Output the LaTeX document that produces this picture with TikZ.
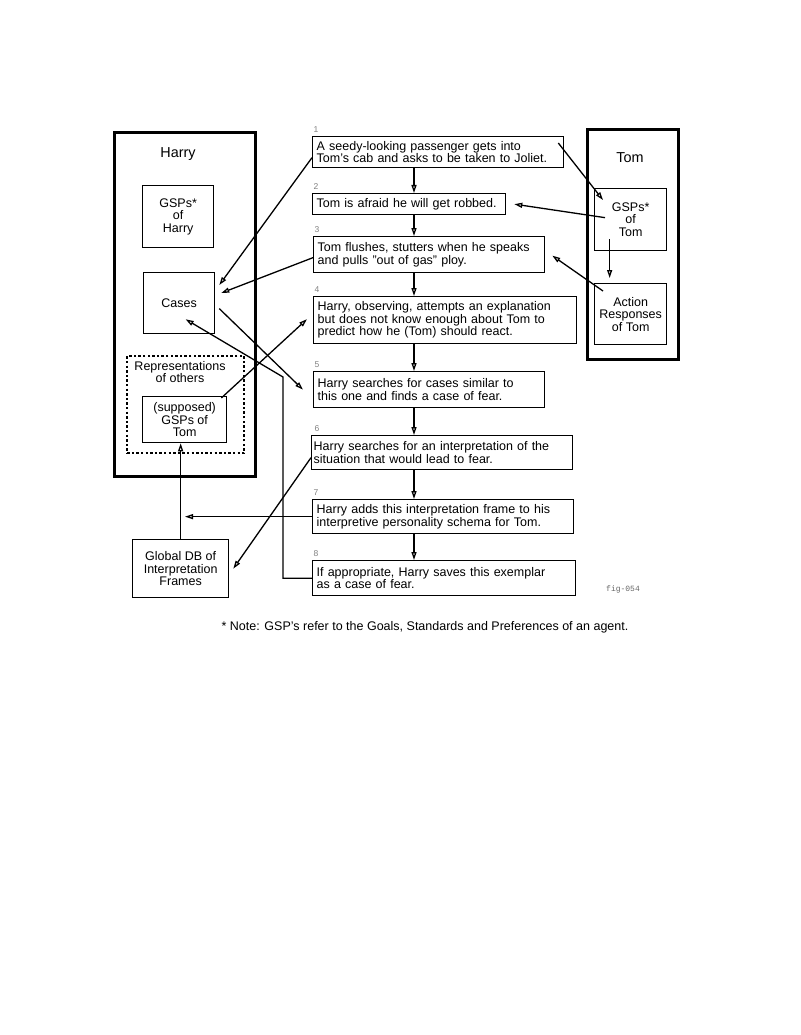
\documentclass[tikz,border=0pt]{standalone}
\usepackage{fontspec}
\setmainfont{Liberation Sans}
\setmonofont{Liberation Mono}
\usepackage{tikz}
\usetikzlibrary{arrows.meta, positioning}

\tikzset{
  agentbox/.style={draw, line width=2.8pt, anchor=north west, inner sep=0pt},
  partbox/.style={draw, anchor=north west, inner sep=0pt, align=center},
  stepbox/.style={draw, anchor=north west, inner xsep=4pt, inner ysep=0pt, align=left},
  steplabel/.style={inner sep=1pt, text=black!50, font=\fontsize{8.5}{8.5}\selectfont},
  agentname/.style={font=\fontsize{14.4}{15}\selectfont}
}

\begin{document}
\begin{tikzpicture}[x=1pt, y=-1pt, line width=1.3pt,
    >={Triangle[open, length=8pt, width=5pt]},
    every node/.append style={font=\fontsize{12.5}{12.6}\selectfont}]
  \useasboundingbox (0,0) rectangle (800,1035);
  \coordinate (spine) at (414,0);
  \coordinate (frametip) at (185,0);
  \coordinate (bend) at (283,377);

  % Harry
  \node[agentbox, minimum width=141pt, minimum height=344pt] (harry) at (113,131) {};
  \node[agentname] (harryname) at (178,154) {Harry};
  \node[partbox, minimum width=71pt, minimum height=62pt] (gsph) at (142,185) {GSPs*\\of\\Harry};
  \node[partbox, minimum width=71pt, minimum height=61pt] (cases) at (143,272) {Cases};
  \node[partbox, line width=2.4pt, dash pattern=on 2.4pt off 2.2pt,
        minimum width=117pt, minimum height=97pt] (others) at (126,355) {};
  \node[align=center, inner sep=0pt] (othersname) at (180,372) {Representations\\of others};
  \node[partbox, minimum width=84pt, minimum height=46pt] (sup) at (142,396) {(supposed)\\GSPs of\\Tom};
  \node[partbox, minimum width=96pt, minimum height=58pt] (gdb) at (132,539) {Global DB of\\Interpretation\\Frames};

  % Tom
  \node[agentbox, minimum width=91pt, minimum height=230pt] (tom) at (586,128) {};
  \node[agentname] (tomname) at (630,158) {Tom};
  \node[partbox, minimum width=72pt, minimum height=62pt] (gspt) at (594,188) {GSPs*\\of\\Tom};
  \node[partbox, minimum width=72pt, minimum height=61pt] (act) at (594,283) {Action\\Responses\\of Tom};

  % the story
  \node[stepbox, text width=243pt, minimum height=31pt] (b1) at (312,136)
    {A seedy-looking passenger gets into\\Tom's cab and asks to be taken to Joliet.};
  \node[stepbox, text width=185pt, minimum height=21pt] (b2) at (312,193)
    {Tom is afraid he will get robbed.};
  \node[stepbox, text width=223pt, minimum height=36pt] (b3) at (313,236)
    {Tom flushes, stutters when he speaks\\and pulls "out of gas" ploy.};
  \node[stepbox, text width=255pt, minimum height=47pt] (b4) at (313,296)
    {Harry, observing, attempts an explanation\\but does not know enough about Tom to\\predict how he (Tom) should react.};
  \node[stepbox, text width=223pt, minimum height=36pt] (b5) at (313,371)
    {Harry searches for cases similar to\\this one and finds a case of fear.};
  \node[stepbox, inner xsep=2pt, text width=257pt, minimum height=34pt] (b6) at (311,435)
    {Harry searches for an interpretation of the\\situation that would lead to fear.};
  \node[stepbox, text width=253pt, minimum height=34pt] (b7) at (312,499)
    {Harry adds this interpretation frame to his\\interpretive personality schema for Tom.};
  \node[stepbox, text width=255pt, minimum height=35pt] (b8) at (312,560)
    {If appropriate, Harry saves this exemplar\\as a case of fear.};

  \node[steplabel, above right=1.5pt and 0pt of b1.north west] (n1) {1};
  \node[steplabel, above right=1.5pt and 0pt of b2.north west] (n2) {2};
  \node[steplabel, above right=1.5pt and 0pt of b3.north west] (n3) {3};
  \node[steplabel, above right=1.5pt and 0pt of b4.north west] (n4) {4};
  \node[steplabel, above right=1.5pt and 0pt of b5.north west] (n5) {5};
  \node[steplabel, above right=1.5pt and 2pt of b6.north west] (n6) {6};
  \node[steplabel, above right=1.5pt and 0pt of b7.north west] (n7) {7};
  \node[steplabel, above right=1.5pt and 0pt of b8.north west] (n8) {8};

  \node[text=black!60, font=\ttfamily\fontsize{8}{8}\selectfont] (tag) at (623,589) {fig-054};
  \node (note) at (425,627) {* Note: GSP's refer to the Goals, Standards and Preferences of an agent.};

  \begin{scope}[every edge/.style={draw=black, line width=1.3pt}]
    \path (b1.south -| spine) edge[->] (b2.north -| spine);
    \path (b2.south -| spine) edge[->] (b3.north -| spine);
    \path (b3.south -| spine) edge[->] (b4.north -| spine);
    \path (b4.south -| spine) edge[->] (b5.north -| spine);
    \path (b5.south -| spine) edge[->] (b6.north -| spine);
    \path (b6.south -| spine) edge[->] (b7.north -| spine);
    \path (b7.south -| spine) edge[->] (b8.north -| spine);
    % into Harry
    \path ([yshift=-5.5pt]b1.west) edge[->] ([xshift=4pt,yshift=-13pt]cases.north east);
    \path ([yshift=-3pt]b3.west) edge[->] ([xshift=6pt,yshift=-21pt]cases.north east);
    \path ([xshift=4pt,yshift=-5.5pt]cases.east) edge[->] ([xshift=-10pt]b5.west);
    \path ([xshift=-6pt,yshift=-2pt]sup.north east) edge[->] ([xshift=-6pt,yshift=1pt]b4.west);
    \path ([yshift=-5pt]b6.west) edge[->] ([xshift=4pt]gdb.east);
    \path (gdb.north) edge[->] (gdb.north |- sup.south);
    \path (b7.west) edge[->] (b7.west -| frametip);
    % Tom
    \path ([xshift=-6pt,yshift=-7pt]b1.north east) edge[->] ([xshift=9pt,yshift=-12pt]gspt.north west);
    \path ([xshift=11pt,yshift=2pt]gspt.west) edge[->] ([xshift=8pt]b2.east);
    \path ([xshift=9pt,yshift=-8pt]act.north west) edge[->] ([xshift=7pt,yshift=-1pt]b3.east);
    \path ([xshift=-21pt,yshift=12pt]gspt.south) edge[->] ([xshift=-21pt,yshift=5pt]act.north);
  \end{scope}
  \draw[->] (b8.west) -| (bend) -- ([xshift=6.5pt,yshift=15pt]cases.south);
\end{tikzpicture}
\end{document}
